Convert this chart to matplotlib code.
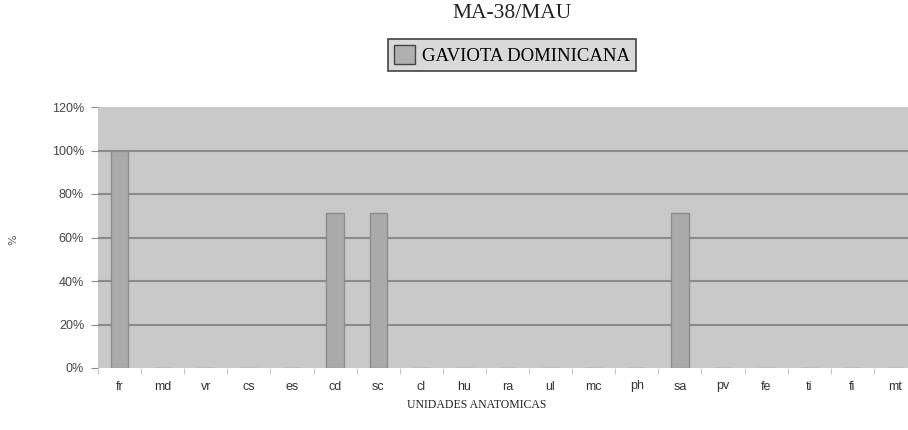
import matplotlib
matplotlib.use("Agg")
import matplotlib.pyplot as plt
from matplotlib.patches import Patch
import numpy as np

categorias = ["fr", "md", "vr", "cs", "es", "cd", "sc", "cl", "hu", "ra",
              "ul", "mc", "ph", "sa", "pv", "fe", "ti", "fi", "mt"]
porcentaje = [100, 0, 0, 0, 0, 71.4, 71.4, 0, 0, 0,
              0, 0, 0, 71.4, 0, 0, 0, 0, 0]
yticks = [0, 20, 40, 60, 80, 100, 120]
serie = "GAVIOTA DOMINICANA"

fig = plt.figure(figsize=(9.08, 4.30), dpi=100)
ax = fig.add_axes([98 / 908, 62 / 430, 819 / 908, 261 / 430])
ax.set_facecolor("#c9c9c9")

x = np.arange(len(categorias))
ax.bar(x, porcentaje, width=0.4, color="#aaaaaa", edgecolor="#8c8c8c",
       linewidth=1, zorder=3)

ax.set_xlim(-0.5, len(categorias) - 0.5)
ax.set_ylim(0, 120)
ax.set_yticks(yticks)
ax.set_yticklabels([f"{v}%" for v in yticks], fontsize=9, color="#444444",
                   family="Liberation Sans")
for v in yticks[1:-1]:
    ax.axhline(v, color="#8a8a8a", linewidth=1.5, zorder=1)

ax.set_xticks(x)
ax.set_xticklabels(categorias, fontsize=9, color="#333333",
                   family="Liberation Sans")
ax.tick_params(axis="x", length=0, pad=9)
ax.set_xticks(np.arange(len(categorias) + 1) - 0.5, minor=True)
ax.tick_params(axis="x", which="minor", length=4, color="#bbbbbb")
ax.tick_params(axis="y", length=5, color="#8a8a8a", pad=5)
for s in ax.spines.values():
    s.set_visible(False)

fig.text(512 / 908, 1 - 13 / 430, "MA-38/MAU", ha="center", va="center",
         fontsize=15.5, family="Liberation Serif", color="#222222")
fig.text(477 / 908, 1 - 405 / 430, "UNIDADES ANATOMICAS", ha="center",
         va="center", fontsize=8.5, family="Liberation Serif", color="#222222")
fig.text(13 / 908, 1 - 240 / 430, "%", rotation=90, ha="center",
         va="center", fontsize=8, color="#555555")

handle = Patch(facecolor="#b0b0b0", edgecolor="#444444", linewidth=1)
leg = fig.legend([handle], [serie], loc="center",
                 bbox_to_anchor=(512 / 908, 1 - 55 / 430), fancybox=False,
                 framealpha=1, prop={"family": "Liberation Serif", "size": 13.5},
                 handlelength=1.1, handleheight=1.2, handletextpad=0.4,
                 borderpad=0.3, borderaxespad=0)
leg.get_frame().set_facecolor("#d9d9d9")
leg.get_frame().set_edgecolor("#444444")
leg.get_frame().set_linewidth(1.2)

fig.savefig("out.png", dpi=100)
